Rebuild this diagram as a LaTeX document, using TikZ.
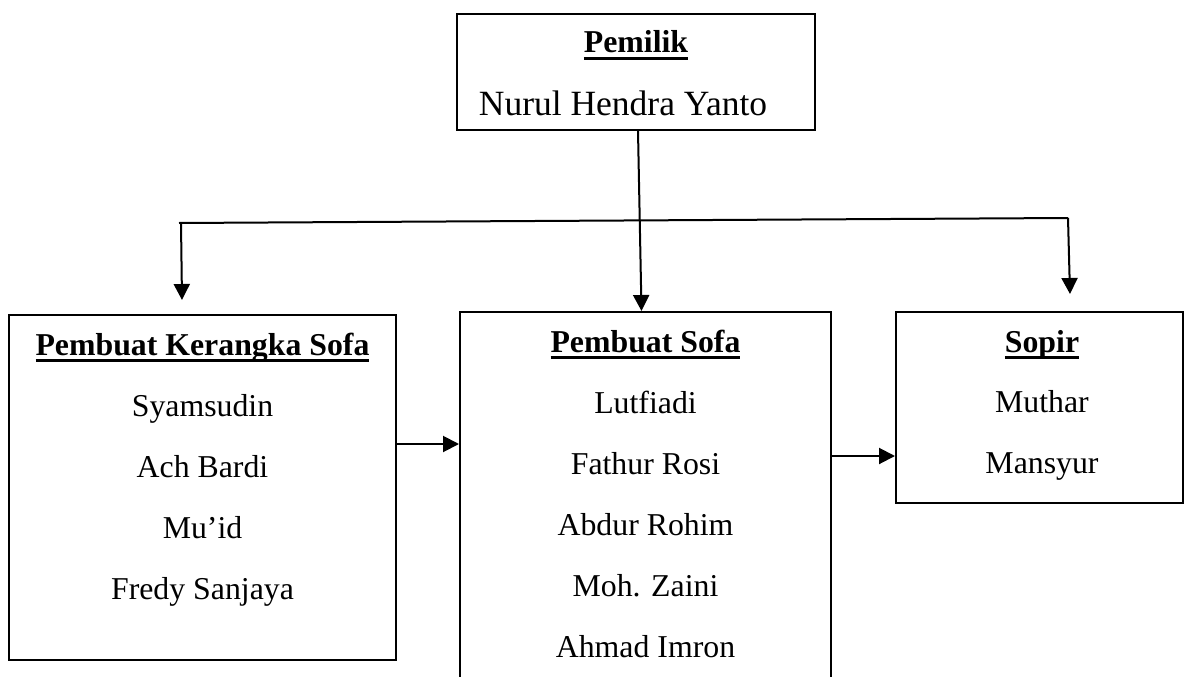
\documentclass[tikz,border=0pt]{standalone}
\usepackage{fontspec}
\setmainfont{Liberation Serif}
\usetikzlibrary{arrows.meta}
\newcommand\ulword[1]{\setbox0\hbox{\bfseries #1}\rlap{\rule[-7.4pt]{\wd0}{3.8pt}}\box0}
\tikzset{
  orgbox/.style={draw=black, line width=2pt, rectangle, inner sep=0pt},
  txt/.style={inner sep=0pt, anchor=base, font=\fontsize{31.8}{38}\selectfont},
  conn/.style={line width=2pt},
  arr/.style={line width=2pt, -{Triangle[length=16pt,width=16pt]}}
}
\begin{document}
\begin{tikzpicture}[x=1pt,y=-1pt]
\path[use as bounding box] (0,0) rectangle (1194,677);
\clip (0,0) rectangle (1194,677);
\fill[white] (0,0) rectangle (1194,677);
% boxes
\node[orgbox, minimum width=358pt, minimum height=116pt] (pemilik) at (636,72) {};
\node[orgbox, minimum width=387pt, minimum height=345pt] (kerangka) at (202.5,487.5) {};
\node[orgbox, minimum width=371pt, minimum height=400pt] (sofa) at (645.5,512) {};
\node[orgbox, minimum width=287pt, minimum height=191pt] (sopir) at (1039.5,407.5) {};
% texts
\node[txt] (p0) at (636,53) {\ulword{Pemilik}};
\node[txt, font=\fontsize{35.5}{40}\selectfont] (p1) at (623,115) {Nurul Hendra Yanto};
\node[txt] (k0) at (202.5,355) {\ulword{Pembuat Kerangka Sofa}};
\node[txt] (k1) at (202.5,416) {Syamsudin};
\node[txt] (k2) at (202.5,477) {Ach Bardi};
\node[txt] (k3) at (202.5,538) {Mu’id};
\node[txt] (k4) at (202.5,599) {Fredy Sanjaya};
\node[txt] (s0) at (645.5,352) {\ulword{Pembuat Sofa}};
\node[txt] (s1) at (645.5,413) {Lutfiadi};
\node[txt] (s2) at (645.5,474) {Fathur Rosi};
\node[txt] (s3) at (645.5,535) {Abdur Rohim};
\node[txt] (s4) at (645.5,596) {Moh. Zaini};
\node[txt] (s5) at (645.5,657) {Ahmad Imron};
\node[txt] (r0) at (1042,352) {\ulword{Sopir}};
\node[txt] (r1) at (1042,412) {Muthar};
\node[txt] (r2) at (1042,473) {Mansyur};
% connectors
\coordinate (busL) at (179,223);
\coordinate (busR) at (1068,218);
\coordinate (tipL) at (182,300);
\coordinate (tipR) at (1070,294);
\coordinate (h1) at (0,444);
\coordinate (h2) at (0,456);
\draw[conn] (busL) -- (busR);
\draw[arr] ([xshift=2pt]pemilik.south) -- ([xshift=-4pt]sofa.north);
\draw[arr] ([xshift=2pt]busL) -- (tipL);
\draw[arr] (busR) -- (tipR);
\draw[arr] (kerangka.east |- h1) -- (sofa.west |- h1);
\draw[arr] (sofa.east |- h2) -- (sopir.west |- h2);
\end{tikzpicture}
\end{document}
